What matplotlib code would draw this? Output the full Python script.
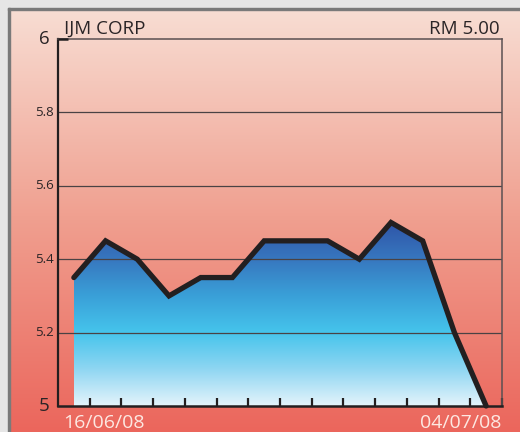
import numpy as np
import matplotlib
matplotlib.use("Agg")
import matplotlib.pyplot as plt
from matplotlib.colors import LinearSegmentedColormap
from matplotlib.patches import Rectangle, Polygon
import matplotlib.transforms as mtransforms

# ---- data ----
title = "IJM CORP"
price_label = "RM 5.00"
start_label = "16/06/08"
end_label = "04/07/08"
prices = [5.35, 5.45, 5.40, 5.30, 5.35, 5.35, 5.45, 5.45, 5.45, 5.40, 5.50, 5.45, 5.20, 5.00]
ytick_values = [5.0, 5.2, 5.4, 5.6, 5.8, 6.0]
ytick_labels = ["5", "5.2", "5.4", "5.6", "5.8", "6"]

plt.rcParams['font.family'] = ['Open Sans', 'DejaVu Sans']

W, H = 520, 432
fig = plt.figure(figsize=(W / 100, H / 100), dpi=100)

# background gradient
bg = fig.add_axes([0, 0, 1, 1], zorder=-10)
bg_cmap = LinearSegmentedColormap.from_list("bg", ["#eb665c", "#f0a090", "#f8e0d6"])
grad = np.linspace(0, 1, 256).reshape(-1, 1)
bg.imshow(grad, aspect='auto', cmap=bg_cmap, origin='lower', extent=[0, 1, 0, 1])
bg.set_xlim(0, 1); bg.set_ylim(0, 1)
bg.axis('off')
# grey frame top/left
fig.add_artist(Rectangle((0, 1 - 8 / H), 1, 8 / H, transform=fig.transFigure, color="#e6e6e6", zorder=-5))
fig.add_artist(Rectangle((0, 0), 8 / W, 1, transform=fig.transFigure, color="#e6e6e6", zorder=-5))
fig.add_artist(Rectangle((8 / W, 0), 2 / W, 1 - 8 / H, transform=fig.transFigure, color="#7a7a7a", zorder=-5))
fig.add_artist(Rectangle((8 / W, 1 - 10 / H), 1 - 8 / W, 2 / H, transform=fig.transFigure, color="#7a7a7a", zorder=-5))

ax = fig.add_axes([58 / W, (H - 406) / H, (502 - 58) / W, (406 - 39) / H])
ax.patch.set_alpha(0)
n = len(prices)
xs = np.arange(n) + 0.5
ax.set_xlim(0, n)
ax.set_ylim(5, 6)

# gradient fill under line
fill_cmap = LinearSegmentedColormap.from_list(
    "fill", [(0.0, "#e4f4fb"), (0.2, "#8fd6f2"), (0.4, "#45c4ec"),
             (0.6, "#3aa0d8"), (0.8, "#3777bf"), (1.0, "#2f55a8")])
ymax_fill = 5.5
im = ax.imshow(np.linspace(0, 1, 256).reshape(-1, 1), aspect='auto', cmap=fill_cmap,
               origin='lower', extent=[xs[0], xs[-1], 5.0, ymax_fill], zorder=1)
poly_pts = [(xs[0], 5.0)] + list(zip(xs, prices)) + [(xs[-1], 5.0)]
clip = Polygon(poly_pts, closed=True, transform=ax.transData, facecolor='none', edgecolor='none')
ax.add_patch(clip)
im.set_clip_path(clip)

# gridlines
for v in ytick_values[1:-1]:
    ax.axhline(v, color="#4a4244", lw=0.9, zorder=2)

# price line
ax.plot(xs, prices, color="#231f20", lw=3.8, solid_joinstyle='miter',
        solid_capstyle='round', zorder=4, clip_on=False)

# spines
for s in ['top', 'right']:
    ax.spines[s].set_color("#5a5052")
    ax.spines[s].set_linewidth(1.1)
ax.spines['left'].set_color("#231f20")
ax.spines['left'].set_linewidth(1.6)
ax.spines['bottom'].set_color("#231f20")
ax.spines['bottom'].set_linewidth(1.8)
ax.spines['bottom'].set_zorder(5)
# black corner segment at top-left
ax.plot([0, 10 / (502 - 58) * n], [6, 6], color="#231f20", lw=1.8, clip_on=False, zorder=5,
        solid_capstyle='butt')

# ticks
ax.set_xticks(np.arange(1, n + 1))
ax.tick_params(axis='x', direction='in', length=6, width=1.6, color="#231f20",
               labelbottom=False)
ax.set_yticks([])

# y tick labels
ytrans = mtransforms.blended_transform_factory(ax.transAxes, ax.transData)
for v, lab in zip(ytick_values, ytick_labels):
    big = lab in ("5", "6")
    off = mtransforms.offset_copy(ytrans, fig=fig, x=-(8 if big else 4), y=0, units='dots')
    ax.text(0, v, lab, transform=off, ha='right', va='center',
            fontsize=13.5 if big else 9.5, color="#2a2426")

# titles
fig.text(64 / W, 1 - 34 / H, title, ha='left', va='baseline', fontsize=13.5, color="#2a2426")
fig.text(500 / W, 1 - 34 / H, price_label, ha='right', va='baseline', fontsize=13.5, color="#2a2426")
fig.text(63 / W, 1 - 428 / H, start_label, ha='left', va='baseline', fontsize=14, color="#fde8e2")
fig.text(501 / W, 1 - 428 / H, end_label, ha='right', va='baseline', fontsize=14, color="#fde8e2")

fig.savefig("out.png", dpi=100)
